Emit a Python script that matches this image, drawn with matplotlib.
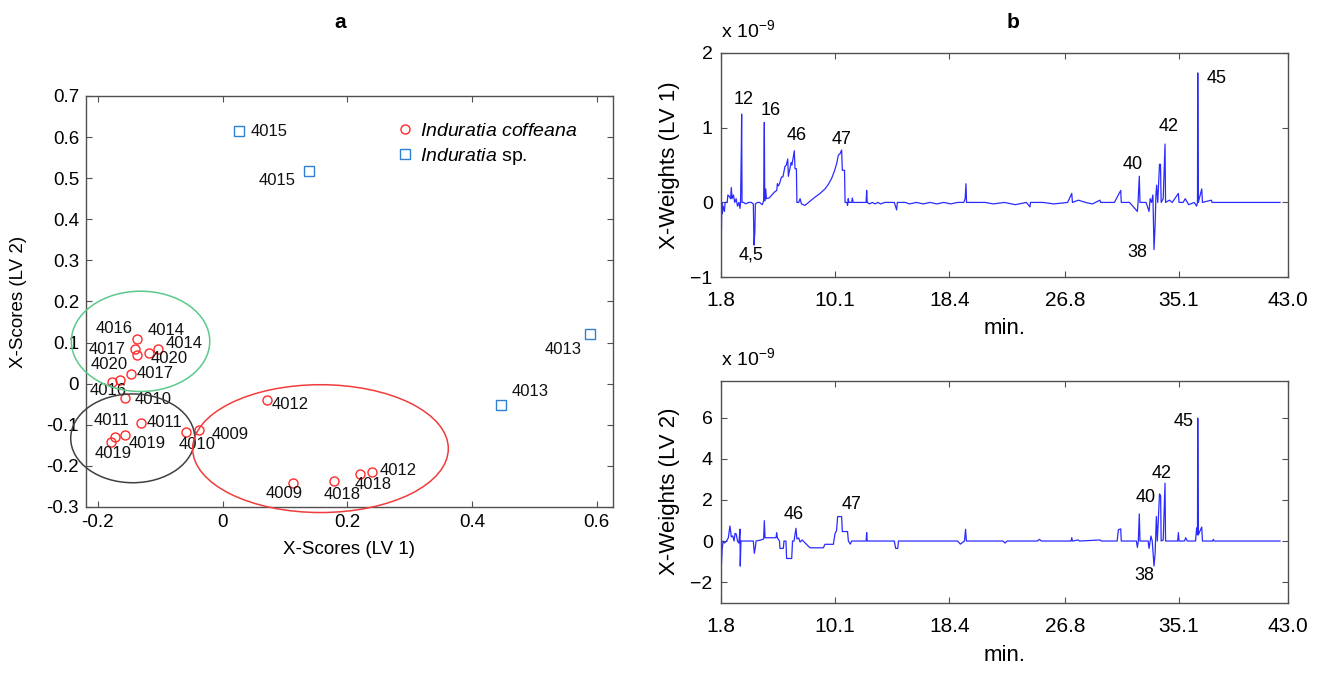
import numpy as np
import matplotlib
matplotlib.use('Agg')
import matplotlib.pyplot as plt
from matplotlib.patches import Ellipse
from matplotlib.lines import Line2D

plt.rcParams['font.family'] = ['Liberation Sans', 'DejaVu Sans']
plt.rcParams['mathtext.fontset'] = 'custom'
plt.rcParams['mathtext.rm'] = 'Liberation Sans'
plt.rcParams['mathtext.it'] = 'Liberation Sans:italic'

# ---- panel a : PLS-DA scores ----
cof_x = [-0.138, -0.140, -0.138, -0.118, -0.104, -0.147, -0.165, -0.177, -0.156, -0.130,
         -0.156, -0.173, -0.179, -0.059, -0.037, 0.072, 0.113, 0.179, 0.220, 0.239]
cof_y = [0.109, 0.085, 0.070, 0.074, 0.085, 0.024, 0.010, 0.003, -0.036, -0.096,
         -0.124, -0.129, -0.141, -0.117, -0.113, -0.039, -0.241, -0.237, -0.220, -0.216]
cof_lab = ['4016', '4017', '4020', '4014', '4014', '4017', '4020', '4016', '4010', '4011',
           '4019', '4011', '4019', '4010', '4009', '4012', '4009', '4018', '4018', '4012']
sp_x = [0.027, 0.139, 0.589, 0.446]
sp_y = [0.615, 0.518, 0.120, -0.051]
sp_lab = ['4015', '4015', '4013', '4013']

# label offsets in pixels (right, up)
cof_off = [(-22, 10), (-28, -1), (-27, -10), (17, 23), (26, 5), (24, 0), (50, 21), (-4, -8),
           (28, -1), (23, 1), (22, -9), (-3, 16), (2, -12), (11, -13), (31, -4), (23, -5),
           (-9, -11), (8, -13), (13, -10), (27, 2)]
sp_off = [(30, -1), (-32, -10), (-27, -15), (29, 13)]

# groups circled by hand: centre x, centre y, width, height, colour
ell_cx = [-0.1315, -0.144, 0.157]
ell_cy = [0.103, -0.133, -0.158]
ell_w = [0.222, 0.199, 0.410]
ell_h = [0.244, 0.216, 0.311]
ell_col = ['#5cc98b', '#404040', '#f03c3c']

# ---- panel b : X-weights ----
lv1_t = [1.80, 1.82, 1.86, 1.90, 1.95, 2.05, 2.10, 2.25, 2.30, 2.40, 2.50, 2.55, 2.60, 2.70, 2.80,
         2.90, 3.00, 3.10, 3.18, 3.22, 3.28, 3.30, 3.33, 3.45, 3.60, 3.80, 4.00, 4.15, 4.20, 4.26,
         4.30, 4.45, 4.60, 4.80, 4.90, 4.95, 4.98, 5.05, 5.10, 5.30, 5.50, 5.70, 5.85, 5.90, 5.97,
         6.05, 6.20, 6.30, 6.45, 6.55, 6.65, 6.70, 6.75, 6.90, 6.95, 7.05, 7.13, 7.18, 7.28, 7.32,
         7.45, 7.55, 7.65, 7.90, 8.30, 8.63, 9.00, 9.36, 9.60, 9.84, 10.05, 10.21, 10.33, 10.45,
         10.57, 10.62, 10.78, 10.82, 10.95, 11.00, 11.05, 11.10, 11.30, 11.35, 11.40, 11.70, 12.35,
         12.39, 12.43, 12.60, 12.80, 13.00, 13.20, 13.40, 13.70, 14.00, 14.40, 14.57, 14.62, 15.20,
         15.50, 16.00, 16.50, 17.00, 17.50, 18.00, 18.50, 19.00, 19.45, 19.55, 19.61, 19.65, 20.00,
         21.00, 21.60, 22.40, 23.20, 24.00, 24.26, 24.30, 25.20, 26.00, 27.00, 27.30, 27.35, 27.78,
         28.30, 28.80, 29.35, 29.40, 30.40, 30.69, 30.86, 30.90, 31.50, 32.07, 32.12, 32.21, 32.26,
         32.70, 32.92, 33.00, 33.10, 33.20, 33.28, 33.36, 33.42, 33.47, 33.55, 33.68, 33.75, 33.80,
         33.95, 34.08, 34.12, 34.40, 34.60, 35.05, 35.10, 35.40, 35.55, 35.80, 36.20, 36.38, 36.44,
         36.46, 36.50, 36.75, 36.80, 37.45, 37.50, 42.44]
lv1_w = [0.57, -0.55, 0.0, -0.15, -0.05, -0.12, 0.0, 0.0, 0.10, 0.08, 0.05, 0.20, 0.05, 0.10, 0.0,
         0.05, -0.05, 0.0, -0.08, 0.0, 0.75, 1.18, 0.0, 0.0, -0.02, 0.0, 0.0, -0.02, -0.57, -0.40,
         -0.02, 0.0, 0.0, -0.03, 0.02, 1.07, 0.02, 0.18, 0.05, 0.06, 0.10, 0.14, 0.16, 0.25, 0.22,
         0.25, 0.34, 0.34, 0.48, 0.50, 0.58, 0.35, 0.40, 0.53, 0.50, 0.60, 0.69, 0.45, 0.45, 0.0,
         0.0, 0.05, -0.02, -0.04, 0.02, 0.07, 0.12, 0.18, 0.24, 0.32, 0.42, 0.52, 0.63, 0.65,
         0.70, 0.43, 0.43, 0.0, 0.0, -0.04, 0.05, 0.0, 0.0, 0.06, 0.0, 0.0, 0.0,
         0.16, 0.0, -0.02, 0.0, -0.02, 0.0, -0.02, 0.0, 0.0, 0.0, -0.10, 0.0, 0.0,
         -0.02, 0.0, -0.02, 0.0, -0.02, 0.0, -0.02, 0.0, 0.0, 0.05, 0.25, 0.0, 0.0,
         0.0, -0.02, 0.0, -0.03, 0.0, -0.06, 0.0, 0.0, -0.02, 0.0, 0.12, 0.0, 0.03,
         0.0, -0.02, 0.03, 0.0, 0.0, 0.10, 0.16, 0.0, 0.0, -0.12, 0.0, 0.35, 0.0,
         0.0, -0.12, 0.05, 0.0, 0.10, -0.63, -0.30, 0.10, 0.23, 0.0, 0.51, 0.51, 0.0,
         0.05, 0.78, 0.0, 0.03, 0.0, 0.12, 0.0, 0.0, 0.05, -0.03, 0.0, -0.05, 0.0,
         1.73, 0.0, 0.18, 0.0, 0.03, 0.0, 0.0]

lv2_t = [1.80, 1.82, 1.88, 1.95, 2.05, 2.20, 2.33, 2.45, 2.55, 2.65, 2.75, 2.82, 2.90, 3.00, 3.10,
         3.18, 3.20, 3.25, 3.80, 4.15, 4.22, 4.30, 4.35, 4.70, 4.90, 4.95, 5.00, 5.80, 5.85, 5.90,
         6.05, 6.09, 6.33, 6.38, 6.52, 6.57, 6.94, 7.00, 7.11, 7.25, 7.32, 7.45, 7.55, 7.70, 7.85,
         8.27, 9.24, 9.36, 9.97, 10.09, 10.20, 10.28, 10.57, 10.62, 11.00, 11.06, 11.20, 11.30,
         12.35, 12.39, 12.43, 14.40, 14.50, 14.65, 14.70, 19.00, 19.20, 19.50, 19.58, 19.64, 22.30,
         22.45, 22.60, 24.80, 24.94, 25.10, 27.25, 27.30, 27.35, 27.78, 27.85, 29.35, 29.45, 30.60,
         30.69, 30.86, 30.90, 32.00, 32.07, 32.14, 32.21, 32.26, 32.85, 32.92, 33.00, 33.06, 33.15,
         33.28, 33.36, 33.45, 33.52, 33.68, 33.76, 33.80, 33.95, 34.08, 34.12, 35.00, 35.05, 35.10,
         35.50, 35.58, 35.70, 36.30, 36.38, 36.44, 36.46, 36.50, 36.75, 36.80, 37.55, 37.59, 37.65,
         42.44]
lv2_w = [2.0, -1.33, -0.44, 0.0, -0.10, 0.0, 0.15, 0.73, 0.20, 0.25, 0.0, 0.37, 0.35, 0.0, -0.10,
         0.57, -1.22, 0.0, 0.0, 0.0, -0.60, -0.30, 0.0, 0.05, 0.10, 0.99, 0.16, 0.16, 0.41, 0.16,
         0.0, -0.36, -0.36, 0.0, 0.0, -0.85, -0.85, 0.0, 0.0, 0.62, 0.10, 0.15, -0.05, 0.05, -0.05,
         -0.33, -0.33, -0.16, -0.16, 0.37, 0.50, 1.19, 1.19, 0.46, 0.46, 0.0, -0.15, 0.0,
         0.0, 0.41, 0.0, 0.0, -0.36, -0.36, 0.0, 0.0, -0.15, 0.0, 0.57, 0.0, 0.0,
         -0.10, 0.0, 0.0, 0.08, 0.0, 0.0, 0.16, 0.0, 0.05, 0.0, 0.05, 0.0, 0.0,
         0.55, 0.59, 0.0, 0.0, -0.31, 0.0, 1.32, 0.0, 0.0, -0.36, 0.0, 0.24, 0.0,
         -1.22, -0.60, 1.19, 0.0, 2.29, 2.20, 0.0, 0.05, 2.81, 0.0, 0.0, 0.41, 0.0,
         0.0, 0.16, 0.0, 0.0, 0.64, 0.30, 5.98, 0.30, 0.68, 0.0, 0.0, 0.08, 0.0,
         0.0]

t_ticks = [1.8, 10.1, 18.4, 26.8, 35.1, 43.0]
t_labels = ['1.8', '10.1', '18.4', '26.8', '35.1', '43.0']

lv1_pk = ['12', '16', '46', '47', '4,5', '40', '42', '45', '38']
lv1_pk_t = [3.42, 5.41, 7.30, 10.57, 3.98, 31.73, 34.32, 37.84, 32.09]
lv1_pk_y = [1.37, 1.23, 0.90, 0.84, -0.70, 0.50, 1.01, 1.66, -0.67]
lv2_pk = ['46', '47', '40', '42', '45', '38']
lv2_pk_t = [7.06, 11.30, 32.68, 33.84, 35.41, 32.57]
lv2_pk_y = [1.27, 1.76, 2.11, 3.30, 5.82, -1.66]

fig = plt.figure(figsize=(13.21, 6.74), dpi=100)
axc = '#505050'

def frame(ax):
    for s in ax.spines.values():
        s.set_color(axc)
        s.set_linewidth(1.0)
    ax.tick_params(direction='in', top=True, right=True, length=4, color=axc)

# panel a
ax1 = fig.add_axes([0.0651, 0.2478, 0.3989, 0.6098])
frame(ax1)
ax1.plot(cof_x, cof_y, 'o', ms=6.5, mfc='none', mec='#ff2a2a', mew=1.0, zorder=3)
ax1.plot(sp_x, sp_y, 's', ms=7, mfc='none', mec='#2f80d0', mew=1.0, zorder=3)
for x, y, lab, off in zip(cof_x + sp_x, cof_y + sp_y, cof_lab + sp_lab, cof_off + sp_off):
    ax1.annotate(lab, (x, y), xytext=off, textcoords='offset pixels',
                 ha='center', va='center', fontsize=12, color='#111111')
for cx, cy, w, h, c in zip(ell_cx, ell_cy, ell_w, ell_h, ell_col):
    ax1.add_patch(Ellipse((cx, cy), w, h, fill=False, ec=c, lw=1.1, clip_on=False, zorder=4))
ax1.set_xlim(-0.219, 0.626)
ax1.set_ylim(-0.3, 0.7)
ax1.set_xticks([-0.2, 0, 0.2, 0.4, 0.6])
ax1.set_xticklabels(['-0.2', '0', '0.2', '0.4', '0.6'])
yt = np.round(np.arange(-0.3, 0.71, 0.1), 1)
ax1.set_yticks(yt)
ax1.set_yticklabels(['%g' % v for v in yt])
ax1.tick_params(labelsize=13.5, pad=5)
ax1.set_xlabel('X-Scores (LV 1)', fontsize=13.5)
ax1.xaxis.set_label_coords(0.5, -0.083)
ax1.set_ylabel('X-Scores (LV 2)', fontsize=13.5)
ax1.yaxis.set_label_coords(-0.112, 0.5)
hnd = [Line2D([], [], ls='none', marker='o', ms=6.5, mfc='none', mec='#ff2a2a'),
       Line2D([], [], ls='none', marker='s', ms=7, mfc='none', mec='#2f80d0')]
ax1.legend(hnd, [r'$\it{Induratia\ coffeana}$', r'$\it{Induratia}$ sp.'], loc='upper left',
           bbox_to_anchor=(0.586, 0.935), frameon=False, fontsize=14, handlelength=1.0,
           handletextpad=0.3, borderaxespad=0, borderpad=0, labelspacing=0.3)

# panel b
ax2 = fig.add_axes([0.5458, 0.5886, 0.4290, 0.3332])
ax3 = fig.add_axes([0.5458, 0.1058, 0.4290, 0.3294])
for ax, t, w, lvl, pk, pt, py, yl, ytk in [
        (ax2, lv1_t, lv1_w, 'X-Weights (LV 1)', lv1_pk, lv1_pk_t, lv1_pk_y, (-1, 2), [-1, 0, 1, 2]),
        (ax3, lv2_t, lv2_w, 'X-Weights (LV 2)', lv2_pk, lv2_pk_t, lv2_pk_y, (-3, 7.8), [-2, 0, 2, 4, 6])]:
    frame(ax)
    ax.plot(t, w, color='#2b2bff', lw=0.9)
    for lab, x, y in zip(pk, pt, py):
        ax.text(x, y, lab, ha='center', va='center', fontsize=13)
    ax.set_xlim(1.8, 43.0)
    ax.set_ylim(*yl)
    ax.set_xticks(t_ticks)
    ax.set_xticklabels(t_labels)
    ax.set_yticks(ytk)
    ax.tick_params(axis='x', labelsize=15, pad=10)
    ax.tick_params(axis='y', labelsize=14, pad=6)
    ax.set_ylabel(lvl, fontsize=16)
    ax.yaxis.set_label_coords(-0.072, 0.5)
    ax.set_xlabel('min.', fontsize=16)
    ax.text(0.0, 1.05, r'x 10$^{-9}$', transform=ax.transAxes, ha='left', va='bottom', fontsize=14)
ax2.xaxis.set_label_coords(0.5, -0.18)
ax3.xaxis.set_label_coords(0.5, -0.19)

fig.text(340 / 1321, 1 - 22 / 674, 'a', ha='center', va='center', fontsize=15, fontweight='bold')
fig.text(1013 / 1321, 1 - 22 / 674, 'b', ha='center', va='center', fontsize=15, fontweight='bold')

fig.savefig('out.png', dpi=100)
